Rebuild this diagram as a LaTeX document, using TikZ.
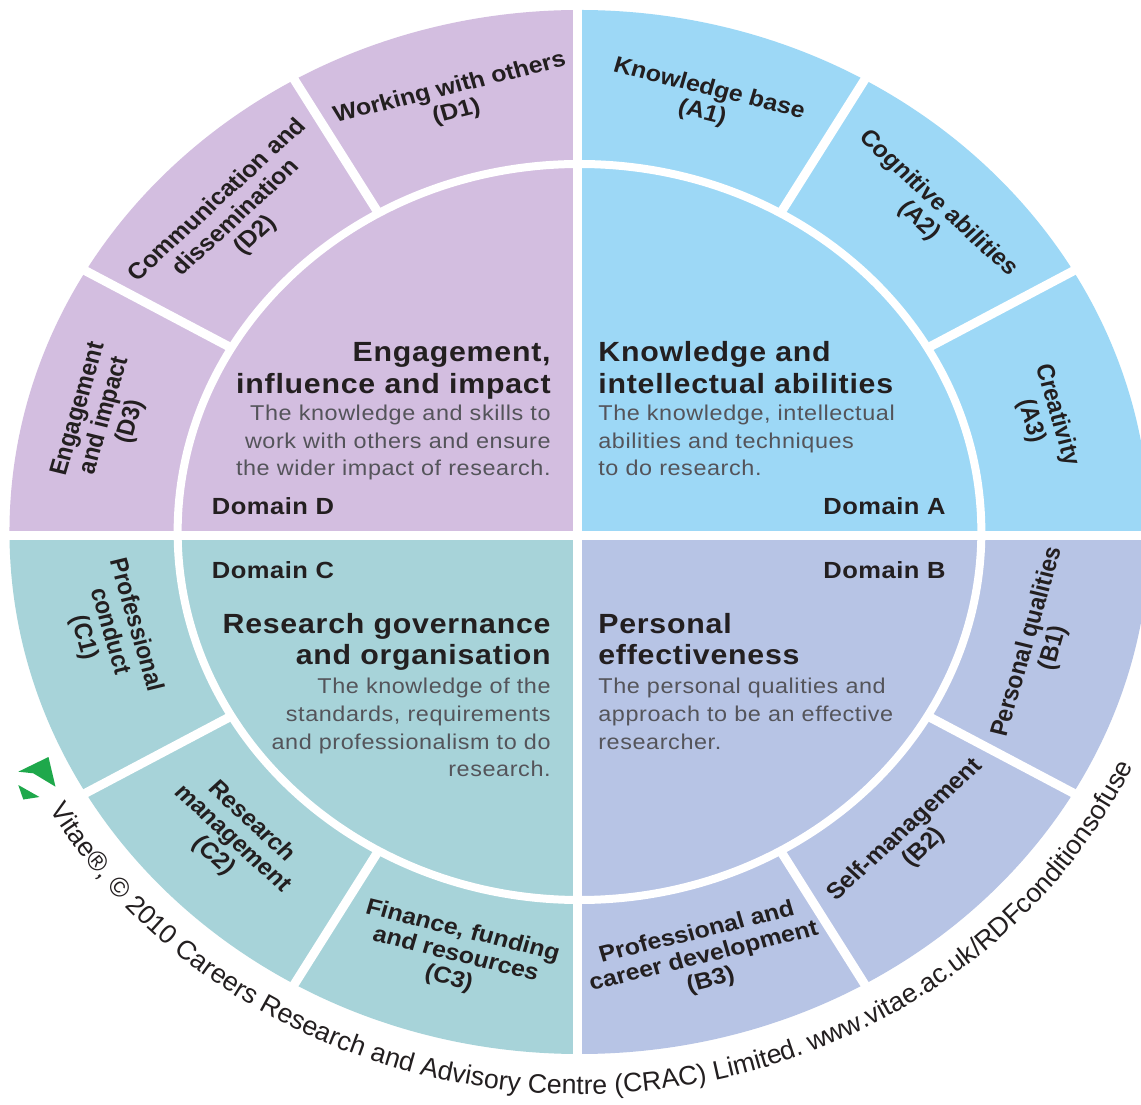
\documentclass[tikz,border=0pt]{standalone}
\usepackage{fontspec}
\setmainfont{Liberation Sans}
\newfontfamily\rdftitle[LetterSpace=2.5]{Liberation Sans}
\newfontfamily\rdfbody[LetterSpace=2.5]{Liberation Sans}
\newfontfamily\rdflabel[LetterSpace=2]{Liberation Sans}
\usetikzlibrary{decorations.text}
\definecolor{domainA}{RGB}{157,216,246}
\definecolor{domainB}{RGB}{183,196,229}
\definecolor{domainC}{RGB}{167,211,217}
\definecolor{domainD}{RGB}{211,190,224}
\definecolor{inkdark}{RGB}{35,31,32}
\definecolor{inkgrey}{RGB}{84,84,90}
\definecolor{vitaegreen}{RGB}{30,168,75}

\tikzset{
  domaintitle/.style={inner sep=0pt, xscale=1.092, text=inkdark, font=\rdftitle\bfseries\fontsize{15.8}{17.9}\selectfont},
  domainbody/.style={inner sep=0pt, xscale=1.092, text=inkgrey, font=\rdfbody\fontsize{12.2}{15.7}\selectfont},
  domainname/.style={inner sep=0pt, xscale=1.092, text=inkdark, font=\rdflabel\bfseries\fontsize{13.3}{14}\selectfont},
  seglabel/.style={inner sep=0pt, xscale=1.092, align=center, text=inkdark, font=\bfseries\fontsize{13}{14}\selectfont}
}

\begin{document}
\begin{tikzpicture}[x=0.02cm, y=0.02cm]
    \useasboundingbox (-579.5,-572) rectangle (561.5,532);
    \fill[white] (-579.5,-572) rectangle (561.5,532);
    \clip (-579.5,-572) rectangle (561.5,532);

    % the wheel, drawn round and stretched sideways
    \begin{scope}[xscale=1.092]
        \fill[domainA] (0,0) -- (0:522) arc[start angle=0, end angle=90, radius=522] -- cycle;
        \fill[domainD] (0,0) -- (90:522) arc[start angle=90, end angle=180, radius=522] -- cycle;
        \fill[domainC] (0,0) -- (180:522) arc[start angle=180, end angle=270, radius=522] -- cycle;
        \fill[domainB] (0,0) -- (270:522) arc[start angle=270, end angle=360, radius=522] -- cycle;

        \draw[white, line width=1.6mm] (0,0) circle[radius=368];
        \draw[white, line width=1.8mm] (30:366) -- (30:540) (60:366) -- (60:540)
            (120:366) -- (120:540) (150:366) -- (150:540)
            (210:366) -- (210:540) (240:366) -- (240:540)
            (300:366) -- (300:540) (330:366) -- (330:540);

        \node[seglabel, rotate=-15] (segA1) at (75:446) {Knowledge base\\(A1)};
        \node[seglabel, rotate=-45] (segA2) at (45:452) {Cognitive abilities\\(A2)};
        \node[seglabel, rotate=-75] (segA3) at (15:440) {Creativity\\(A3)};
        \node[seglabel, rotate=15] (segD1) at (105:447) {Working with others\\(D1)};
        \node[seglabel, rotate=45] (segD2) at (135:444) {Communication and\\dissemination\\(D2)};
        \node[seglabel, rotate=75] (segD3) at (165:450) {Engagement\\and impact\\(D3)};
        \node[seglabel, rotate=-75] (segC1) at (193:442) {Professional\\conduct\\(C1)};
        \node[seglabel, rotate=-45] (segC2) at (224:442) {Research\\management\\(C2)};
        \node[seglabel, rotate=-15] (segC3) at (255:438) {Finance, funding\\and resources\\(C3)};
        \node[seglabel, rotate=15] (segB3) at (285:440) {Professional and\\career development\\(B3)};
        \node[seglabel, rotate=45] (segB2) at (315:434) {Self-management\\(B2)};
        \node[seglabel, rotate=75] (segB1) at (345:437) {Personal qualities\\(B1)};
    \end{scope}

    \draw[white, line width=1.8mm] (-2,545) -- (-2,-545);
    \draw[white, line width=1.8mm] (-600,-4) -- (600,-4);

    % domain D
    \node[domaintitle, anchor=base east] (titleD) at (-28.5,170) {\begin{tabular}[t]{@{}r@{}}Engagement,\\influence and impact\end{tabular}};
    \node[domainbody, anchor=base east] (bodyD) at (-28.5,111.3) {\begin{tabular}[t]{@{}r@{}}The knowledge and skills to\\work with others and ensure\\the wider impact of research.\end{tabular}};
    \node[domainname, anchor=base west] (nameD) at (-368,17) {Domain D};

    % domain A
    \node[domaintitle, anchor=base west] (titleA) at (18.5,170) {\begin{tabular}[t]{@{}l@{}}Knowledge and\\intellectual abilities\end{tabular}};
    \node[domainbody, anchor=base west] (bodyA) at (18.5,111.3) {\begin{tabular}[t]{@{}l@{}}The knowledge, intellectual\\abilities and techniques\\to do research.\end{tabular}};
    \node[domainname, anchor=base east] (nameA) at (366.5,17) {Domain A};

    % domain C
    \node[domainname, anchor=base west] (nameC) at (-368,-46.3) {Domain C};
    \node[domaintitle, anchor=base east] (titleC) at (-28.5,-101.3) {\begin{tabular}[t]{@{}r@{}}Research governance\\and organisation\end{tabular}};
    \node[domainbody, anchor=base east] (bodyC) at (-28.5,-162) {\begin{tabular}[t]{@{}r@{}}The knowledge of the\\standards, requirements\\and professionalism to do\\research.\end{tabular}};

    % domain B
    \node[domainname, anchor=base east] (nameB) at (366.5,-46.3) {Domain B};
    \node[domaintitle, anchor=base west] (titleB) at (18.5,-101.3) {\begin{tabular}[t]{@{}l@{}}Personal\\effectiveness\end{tabular}};
    \node[domainbody, anchor=base west] (bodyB) at (18.5,-162) {\begin{tabular}[t]{@{}l@{}}The personal qualities and\\approach to be an effective\\researcher.\end{tabular}};

    % logo and copyright line
    \fill[vitaegreen] (-561.2,-239.7) -- (-531,-225) -- (-524,-254.7) -- (-546.2,-241.3) -- cycle;
    \fill[vitaegreen] (-561.2,-253) -- (-540,-265) -- (-556.2,-267.5) -- cycle;
    \path[decorate, decoration={text along path, text align=center, text color=inkdark,
        text={|\fontsize{15.2}{16}\selectfont|Vitae®, © 2010 Careers Research and Advisory Centre (CRAC) Limited. www.vitae.ac.uk/RDFconditionsofuse}}]
        (200:609 and 562) arc[start angle=200, end angle=345, x radius=609, y radius=562];
\end{tikzpicture}
\end{document}
